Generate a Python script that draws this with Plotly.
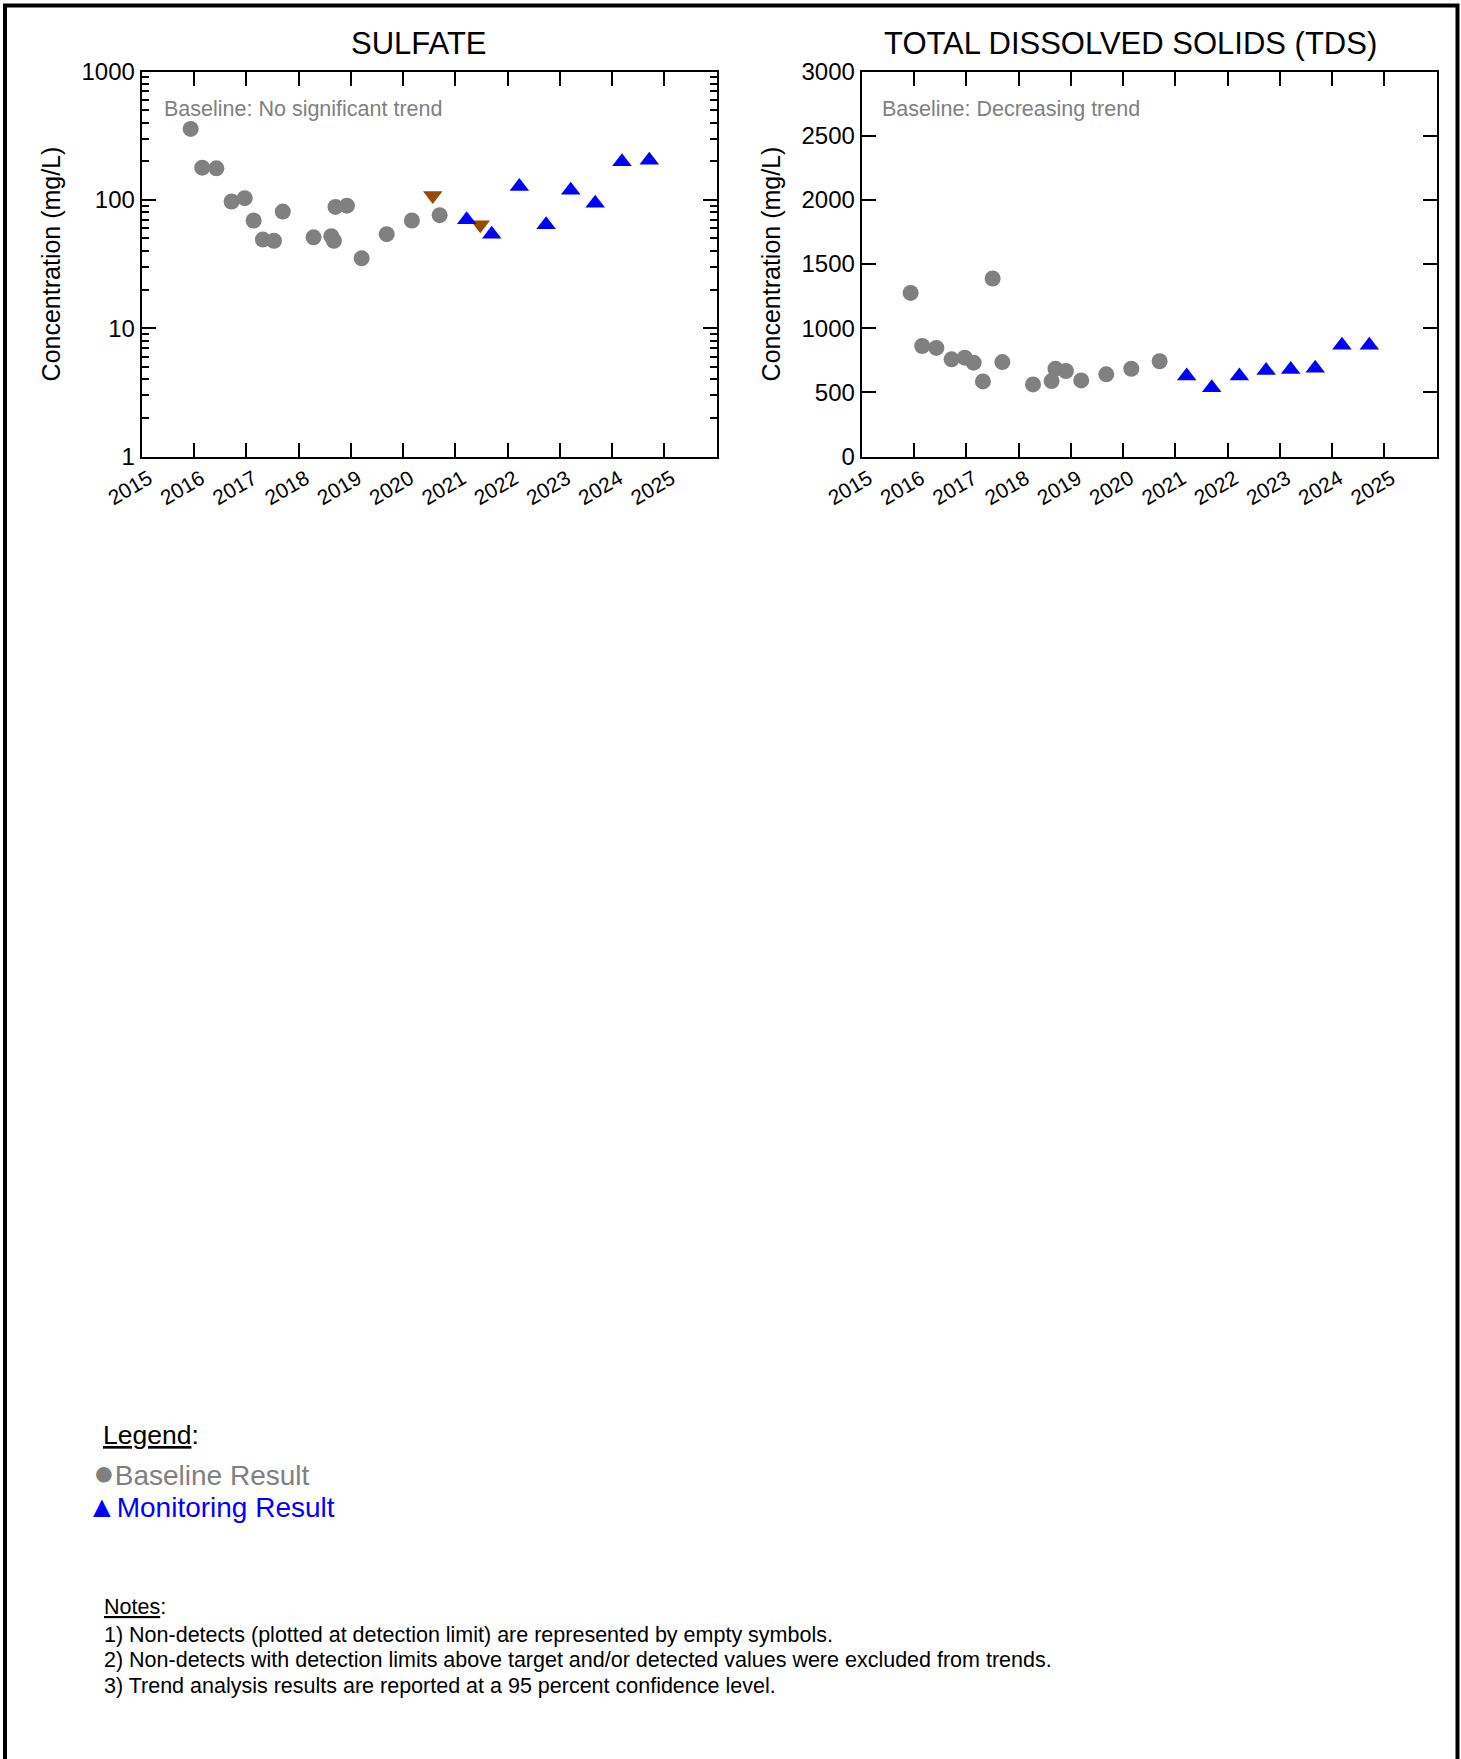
import plotly.graph_objects as go

# ---------------- data ----------------
sulfate_base_dates = ["2015-12-09", "2016-02-28", "2016-06-06", "2016-09-20", "2016-12-21",
                      "2017-02-21", "2017-04-27", "2017-07-13", "2017-09-13", "2018-04-16",
                      "2018-08-18", "2018-09-05", "2018-09-16", "2018-12-05", "2019-03-18",
                      "2019-09-09", "2020-03-03", "2020-09-13"]
sulfate_base_vals = [357, 178, 176, 97, 103, 69, 49, 48, 81, 51, 52, 48, 88, 90, 35, 54, 69, 76]

sulfate_other_dates = ["2020-07-27", "2021-06-24"]
sulfate_other_vals = [108, 64]

sulfate_mon_dates = ["2021-03-21", "2021-09-12", "2022-03-24", "2022-09-27", "2023-03-18",
                     "2023-09-05", "2024-03-10", "2024-09-17"]
sulfate_mon_vals = [70, 54, 127, 64, 119, 94, 198, 203]

tds_base_dates = ["2015-12-09", "2016-02-28", "2016-06-06", "2016-09-20", "2016-12-21",
                  "2017-02-21", "2017-04-27", "2017-07-04", "2017-09-10", "2018-04-12",
                  "2018-08-20", "2018-09-16", "2018-11-28", "2019-03-15", "2019-09-06",
                  "2020-02-28", "2020-09-13"]
tds_base_vals = [1275, 861, 846, 757, 770, 731, 585, 1387, 736, 562, 588, 684, 666, 593, 640, 684, 742]

tds_mon_dates = ["2021-03-21", "2021-09-12", "2022-03-24", "2022-09-27", "2023-03-18",
                 "2023-09-05", "2024-03-10", "2024-09-17"]
tds_mon_vals = [628, 535, 628, 670, 678, 688, 866, 866]

year_ticks = ["2015-01-01", "2016-01-01", "2017-01-01", "2018-01-01", "2019-01-01", "2020-01-01",
              "2021-01-01", "2022-01-01", "2023-01-01", "2024-01-01", "2025-01-01"]
year_labels = ["2015", "2016", "2017", "2018", "2019", "2020", "2021", "2022", "2023", "2024", "2025"]
x_range = ["2015-01-01", "2026-01-01"]

log_tickvals = [1, 10, 100, 1000]
log_ticktext = ["1", "10", "100", "1000"]
log_minor = [m * d for d in (1, 10, 100) for m in range(2, 10)]

tds_tickvals = [0, 500, 1000, 1500, 2000, 2500, 3000]

titles = ["SULFATE", "TOTAL DISSOLVED SOLIDS (TDS)"]
trend_texts = ["Baseline: No significant trend", "Baseline: Decreasing trend"]
notes = ["1) Non-detects (plotted at detection limit) are represented by empty symbols.",
         "2) Non-detects with detection limits above target and/or detected values were excluded from trends.",
         "3) Trend analysis results are reported at a 95 percent confidence level."]

# ---------------- style ----------------
W, H = 1461, 1759
FONT = "Liberation Sans, Arial, sans-serif"
GRAY = "#808080"
BLUE = "#0000FF"
BROWN = "#964B00"


def px(x):
    return x / W


def py(y):
    return 1 - y / H


fig = go.Figure()

fig.add_trace(go.Scatter(x=sulfate_base_dates, y=sulfate_base_vals, mode="markers",
                         marker=dict(symbol="circle", size=16, color=GRAY),
                         name="Baseline Result", xaxis="x", yaxis="y", showlegend=False))
fig.add_trace(go.Scatter(x=sulfate_other_dates, y=sulfate_other_vals, mode="markers",
                         marker=dict(symbol="triangle-down", size=17, color=BROWN),
                         name="Other", xaxis="x", yaxis="y", showlegend=False))
fig.add_trace(go.Scatter(x=sulfate_mon_dates, y=sulfate_mon_vals, mode="markers",
                         marker=dict(symbol="triangle-up", size=17, color=BLUE),
                         name="Monitoring Result", xaxis="x", yaxis="y", showlegend=False))
fig.add_trace(go.Scatter(x=tds_base_dates, y=tds_base_vals, mode="markers",
                         marker=dict(symbol="circle", size=16, color=GRAY),
                         name="Baseline Result", xaxis="x2", yaxis="y2", showlegend=False))
fig.add_trace(go.Scatter(x=tds_mon_dates, y=tds_mon_vals, mode="markers",
                         marker=dict(symbol="triangle-up", size=17, color=BLUE),
                         name="Monitoring Result", xaxis="x2", yaxis="y2", showlegend=False))

ydom = [py(456.5), py(71.5)]
common_x = dict(type="date", range=x_range, tickvals=year_ticks, ticktext=year_labels,
                tickangle=-30, ticks="inside", ticklen=14, tickwidth=2, tickcolor="black",
                showline=True, linewidth=2, linecolor="black", mirror="ticks",
                showgrid=False, zeroline=False, automargin=False, ticklabelshift=7,
                tickfont=dict(family=FONT, size=21, color="black"))
common_y = dict(ticks="inside", ticklen=14, tickwidth=2, tickcolor="black",
                showline=True, linewidth=2, linecolor="black", mirror="ticks",
                showgrid=False, zeroline=False, automargin=False,
                tickfont=dict(family=FONT, size=24, color="black"),
                title=dict(text="Concentration (mg/L)", font=dict(family=FONT, size=25, color="black"),
                           standoff=14))

fig.update_layout(
    template="none",
    width=W, height=H,
    margin=dict(l=0, r=0, t=0, b=0, pad=0, autoexpand=False),
    paper_bgcolor="white", plot_bgcolor="white",
    font=dict(family=FONT, color="black"),
    xaxis=dict(domain=[px(141.7), px(716.7)], anchor="y", **common_x),
    xaxis2=dict(domain=[px(861.7), px(1436.7)], anchor="y2", **common_x),
    yaxis=dict(domain=ydom, anchor="x", type="log", range=[0, 3],
               tickvals=log_tickvals, ticktext=log_ticktext,
               minor=dict(tickvals=log_minor, ticks="inside", ticklen=7, tickwidth=2,
                          tickcolor="black", showgrid=False),
               **common_y),
    yaxis2=dict(domain=ydom, anchor="x2", range=[0, 3000], tickvals=tds_tickvals, **common_y),
    showlegend=False,
)

annotations = []
# titles
for t, xc in zip(titles, [419, 1130]):
    annotations.append(dict(text=t, x=px(xc), y=py(44), xref="paper", yref="paper",
                            xanchor="center", yanchor="middle", showarrow=False,
                            font=dict(family=FONT, size=31, color="black")))
# trend texts
for t, xl in zip(trend_texts, [162, 880]):
    annotations.append(dict(text=t, x=px(xl), y=py(108.5), xref="paper", yref="paper",
                            xanchor="left", yanchor="middle", showarrow=False,
                            font=dict(family=FONT, size=21.5, color=GRAY)))
# legend block
annotations.append(dict(text="<u>Legend</u>:", x=px(101), y=py(1435), xref="paper", yref="paper",
                        xanchor="left", yanchor="middle", showarrow=False,
                        font=dict(family=FONT, size=26.5, color="black")))
annotations.append(dict(text="<span style='font-size:36px'>●</span>Baseline Result",
                        x=px(91), y=py(1472), xref="paper", yref="paper",
                        xanchor="left", yanchor="middle", showarrow=False,
                        font=dict(family=FONT, size=28, color=GRAY)))
annotations.append(dict(text="<span style='font-size:30px'>▲</span>Monitoring Result",
                        x=px(85), y=py(1506), xref="paper", yref="paper",
                        xanchor="left", yanchor="middle", showarrow=False,
                        font=dict(family=FONT, size=28, color=BLUE)))
# notes
annotations.append(dict(text="<u>Notes</u>:", x=px(102), y=py(1607), xref="paper", yref="paper",
                        xanchor="left", yanchor="middle", showarrow=False,
                        font=dict(family=FONT, size=21.5, color="black")))
for i, n in enumerate(notes):
    annotations.append(dict(text=n, x=px(102), y=py(1635 + i * 25.3), xref="paper", yref="paper",
                            xanchor="left", yanchor="middle", showarrow=False,
                            font=dict(family=FONT, size=21.5, color="black")))

fig.update_layout(annotations=annotations)

# page frame (bottom edge runs off the page)
fig.add_shape(type="rect", xref="paper", yref="paper",
              x0=px(5), x1=px(1457.5), y0=-0.02, y1=py(5.5),
              line=dict(color="black", width=4), fillcolor="rgba(0,0,0,0)", layer="above")

fig.write_html("out.html", config={"displayModeBar": False},
               post_script="document.body.style.margin='0';document.body.style.overflow='hidden';")
